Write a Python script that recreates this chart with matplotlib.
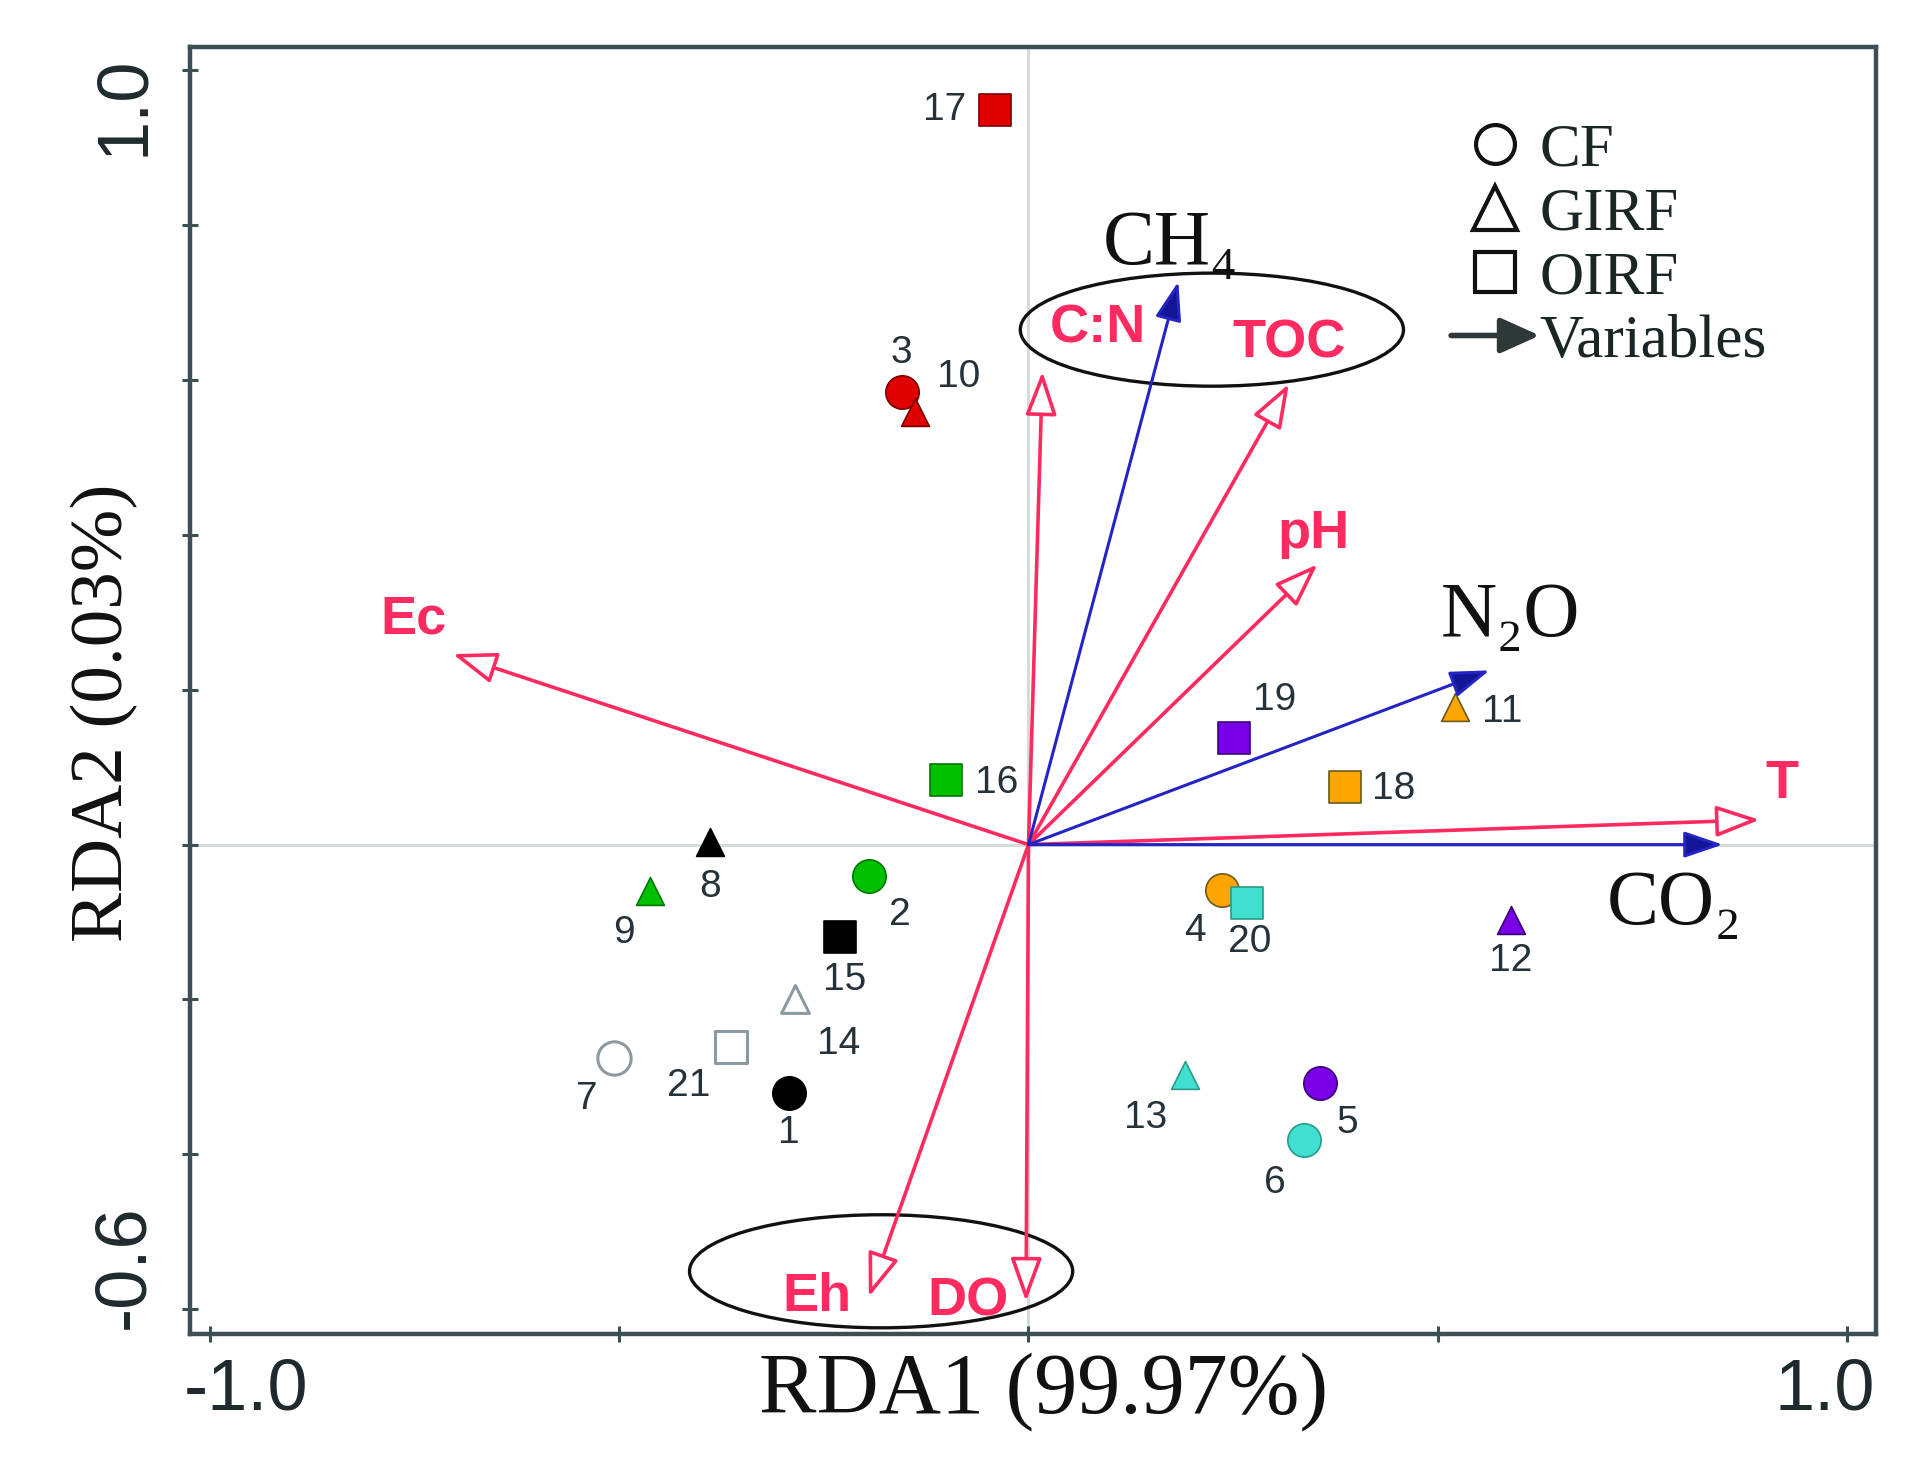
import numpy as np
import matplotlib
matplotlib.use('Agg')
import matplotlib.pyplot as plt
import matplotlib.transforms as mtransforms
from matplotlib.patches import Ellipse, FancyArrowPatch
from matplotlib.lines import Line2D
from matplotlib.legend_handler import HandlerBase

plt.rcParams['font.family'] = ['Liberation Sans', 'DejaVu Sans']

# sample scores on RDA1 / RDA2 (samples 1..21)
sample_ids = list(range(1, 22))
rda1 = [-0.293, -0.195, -0.155, 0.236, 0.356, 0.336, -0.506,
        -0.389, -0.462, -0.138, 0.521, 0.589, 0.191, -0.285,
        -0.230, -0.101, -0.041, 0.387, 0.251, 0.267, -0.363]
rda2 = [-0.321, -0.041, 0.584, -0.059, -0.308, -0.381, -0.275,
        0.003, -0.060, 0.559, 0.178, -0.098, -0.297, -0.200,
        -0.119, 0.083, 0.949, 0.075, 0.138, -0.076, -0.262]
treatment = ['CF'] * 7 + ['GIRF'] * 7 + ['OIRF'] * 7

# explanatory variables (red, open heads)
env_vars = ['Ec', 'C:N', 'TOC', 'pH', 'T', 'Eh', 'DO']
env_rda1 = [-0.703, 0.017, 0.318, 0.353, 0.893, -0.195, -0.003]
env_rda2 = [0.246, 0.611, 0.595, 0.362, 0.032, -0.584, -0.590]

# gas fluxes (blue, filled heads)
gas_vars = ['CH\u2084', 'N\u2082O', 'CO\u2082']
gas_rda1 = [0.183, 0.563, 0.848]
gas_rda2 = [0.727, 0.225, 0.000]

# styling
shade_fc = ['#000000', '#00c000', '#e00000', '#ffa500', '#7a00e8', '#40e0d0', '#ffffff']
shade_ec = ['#000000', '#007800', '#7a0000', '#6a5a20', '#3c0078', '#2a9a8a', '#8a9aa0']
group_marker = {'CF': 'o', 'GIRF': '^', 'OIRF': 's'}
group_size = {'CF': 24, 'GIRF': 20, 'OIRF': 23}
# label offsets (points) for sample numbers
label_off = [(0, -29), (22, -28), (0, 28), (-19, -29), (20, -29), (-21, -31), (-20, -30),
             (0, -32), (-19, -30), (31, 25), (34, -4), (0, -29), (-28, -31), (31, -32),
             (3, -31), (37, -2), (-36, 0), (35, -2), (29, 27), (2, -28), (-31, -28)]
env_off = [(-28, 25), (40, 31), (0, 29), (-3, 22), (16, 26), (-37, 0), (-42, 0)]
gas_off = [(-6, 26), (15, 38), (-35, -44)]
red = '#ff2a5f'
blue = '#2424c4'
spine_c = '#3d4f55'
serif = ['Liberation Serif', 'DejaVu Serif']

fig = plt.figure(figsize=(19.14, 14.6), dpi=100)
ax = fig.add_axes([0.0993, 0.0863, 0.8808, 0.8815])
ax.set_xlim(-1.024, 1.035)
ax.set_ylim(-0.632, 1.030)

ax.axhline(0, color='#d3dbdb', lw=2.2, zorder=0)
ax.axvline(0, color='#d3dbdb', lw=2.2, zorder=0)

# highlight ellipses
for (cx, cy) in [(0.224, 0.665), (-0.180, -0.551)]:
    ax.add_patch(Ellipse((cx, cy), 0.468, 0.146, fill=False, ec='#111111', lw=2.4, zorder=3))

# sample points
for i, sid in enumerate(sample_ids):
    g = treatment[i]
    k = i % 7
    ax.scatter(rda1[i], rda2[i], marker=group_marker[g], s=group_size[g] ** 2,
               c=shade_fc[k], edgecolors=shade_ec[k],
               linewidths=2.2 if k == 6 else 1.2, zorder=4)
    ax.annotate(str(sid), (rda1[i], rda2[i]), xytext=label_off[i], textcoords='offset points',
                ha='center', va='center', fontsize=28, color='#25323a', zorder=5)

# environmental arrows
for name, x, y, off in zip(env_vars, env_rda1, env_rda2, env_off):
    ax.annotate('', xy=(x, y), xytext=(0, 0),
                arrowprops=dict(arrowstyle='-|>,head_length=1.0,head_width=0.36',
                                mutation_scale=27, fc='white', ec=red, lw=2.6,
                                shrinkA=0, shrinkB=0), zorder=6)
    ax.annotate(name, (x, y), xytext=off, textcoords='offset points', ha='center',
                va='center', fontsize=39, fontweight='bold', color=red, zorder=7)

# gas arrows
for name, x, y, off in zip(gas_vars, gas_rda1, gas_rda2, gas_off):
    ax.annotate('', xy=(x, y), xytext=(0, 0),
                arrowprops=dict(arrowstyle='-|>,head_length=1.0,head_width=0.34',
                                mutation_scale=24, fc='#141496', ec=blue, lw=2.2,
                                shrinkA=0, shrinkB=0), zorder=6)
    ax.annotate(name, (x, y), xytext=off, textcoords='offset points', ha='center',
                va='center', fontsize=56, family=serif, color='#111111', zorder=7)

# axes styling
for sp in ax.spines.values():
    sp.set_color(spine_c)
    sp.set_linewidth(3.2)
ax.set_xticks([-1.0, -0.5, 0, 0.5, 1.0], ['-1.0', '', '', '', '1.0'])
yt = np.round(np.arange(-0.6, 1.01, 0.2), 1)
ax.set_yticks(yt, ['-0.6'] + [''] * (len(yt) - 2) + ['1.0'])
ax.tick_params(direction='inout', length=12, width=2.2, color=spine_c,
               labelsize=52, labelcolor='#1e2a2e')
ax.tick_params(axis='x', pad=11)
ax.tick_params(axis='y', pad=17, labelrotation=90)

def shift(lab, dx, dy):
    lab.set_transform(lab.get_transform() + mtransforms.ScaledTranslation(dx, dy, fig.dpi_scale_trans))

xt = ax.xaxis.get_major_ticks()
shift(xt[0].label1, 0.36, 0)
shift(xt[-1].label1, -0.23, 0)
ytk = ax.yaxis.get_major_ticks()
for t in ytk:
    t.label1.set_va('center')
shift(ytk[0].label1, 0, 0.43)
shift(ytk[-1].label1, 0, -0.36)

ax.set_xlabel('RDA1 (99.97%)', family=serif, fontsize=62, color='#111111')
ax.xaxis.set_label_coords(0.506, -0.014)
ax.set_ylabel('RDA2 (0.03%)', family=serif, fontsize=54, color='#111111')
ax.yaxis.set_label_coords(-0.031, 0.483)


class HandlerArrow(HandlerBase):
    def create_artists(self, legend, orig_handle, xdescent, ydescent, width, height, fontsize, trans):
        y = height / 2 - ydescent
        arr = FancyArrowPatch((-xdescent, y), (width - xdescent, y),
                              arrowstyle='-|>,head_length=1.0,head_width=0.45',
                              mutation_scale=24, lw=4, color='#2e3838',
                              shrinkA=0, shrinkB=0)
        arr.set_transform(trans)
        return [arr]


handles = [
    Line2D([], [], ls='none', marker='o', ms=28, mfc='white', mec='#111111', mew=3),
    Line2D([], [], ls='none', marker='^', ms=32, mfc='white', mec='#111111', mew=3),
    Line2D([], [], ls='none', marker='s', ms=29, mfc='white', mec='#111111', mew=3),
    FancyArrowPatch((0, 0), (1, 0)),
]
ax.legend(handles, ['CF', 'GIRF', 'OIRF', 'Variables'],
          handler_map={FancyArrowPatch: HandlerArrow()},
          loc='upper left', bbox_to_anchor=(0.748, 0.941), frameon=False,
          prop={'family': serif, 'size': 44}, labelcolor='#1a2626',
          handlelength=1.45, handletextpad=0.0, labelspacing=0.13,
          borderpad=0, borderaxespad=0, numpoints=1)

fig.savefig('out.png', dpi=100)
